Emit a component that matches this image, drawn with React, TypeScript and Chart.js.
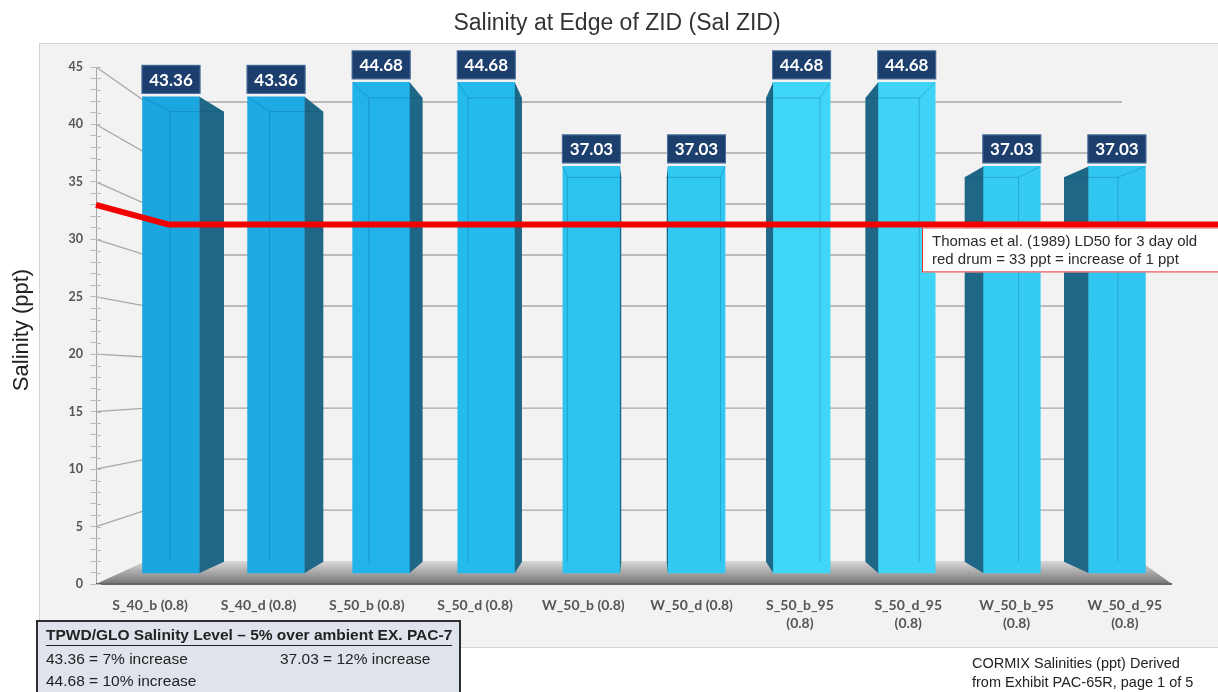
import React, { useEffect, useRef } from 'react';
import { Chart, registerables } from 'chart.js';

Chart.register(...registerables);

const categories: (string | string[])[] = [
  'S_40_b (0.8)',
  'S_40_d (0.8)',
  'S_50_b (0.8)',
  'S_50_d (0.8)',
  'W_50_b (0.8)',
  'W_50_d (0.8)',
  ['S_50_b_95', '(0.8)'],
  ['S_50_d_95', '(0.8)'],
  ['W_50_b_95', '(0.8)'],
  ['W_50_d_95', '(0.8)'],
];
const salinity = [43.36, 43.36, 44.68, 44.68, 37.03, 37.03, 44.68, 44.68, 37.03, 37.03];
const threshold = 33;
const titleText = 'Salinity at Edge of ZID (Sal ZID)';
const yTitle = 'Salinity (ppt)';
const thresholdNote = ['Thomas et al. (1989) LD50 for 3 day old', 'red drum = 33 ppt = increase of 1 ppt'];
const legendHeading = 'TPWD/GLO Salinity Level \u2013 5% over ambient EX. PAC-7';
const legendItems = ['43.36 = 7% increase', '37.03 = 12% increase', '44.68 = 10% increase'];
const sourceNote = ['CORMIX Salinities (ppt) Derived', 'from Exhibit PAC-65R, page 1 of 5'];

const barColors = ['#1ba6e0', '#1eaae3', '#21b3e9', '#25baec', '#2cc3f0', '#31c9f2', '#40d6f7', '#3fd4f6', '#35cbf3', '#31c6f1'];
const SIDE = '#1e6787';
const VP = { x: 645, y: 366 };
const DEPTH = 0.945;
const proj = (x: number, y: number) => ({ x: VP.x + (x - VP.x) * DEPTH, y: VP.y + (y - VP.y) * DEPTH });
const ARIAL = '"Liberation Sans", Arial, sans-serif';
const CAL = 'Lato, "Open Sans", sans-serif';

const decor = {
  id: 'decor',
  beforeDraw(chart: any) {
    const ctx = chart.ctx;
    ctx.save();
    ctx.fillStyle = '#ffffff';
    ctx.fillRect(0, 0, chart.width, chart.height);
    ctx.fillStyle = '#f2f2f2';
    ctx.fillRect(39, 43, 1180, 604);
    ctx.strokeStyle = '#d4d4d4';
    ctx.lineWidth = 1;
    ctx.strokeRect(39.5, 43.5, 1180, 604);
    ctx.restore();
  },
  beforeDatasetsDraw(chart: any) {
    const ctx = chart.ctx;
    const y = chart.scales.y;
    const yw = chart.scales.yw;
    const area = chart.chartArea;
    ctx.save();
    // floor
    const fy = y.getPixelForValue(0);
    const by = yw.getPixelForValue(0);
    const g = ctx.createLinearGradient(0, by, 0, fy);
    g.addColorStop(0, '#d8d8d8');
    g.addColorStop(0.8, '#8a8a8a');
    g.addColorStop(1, '#737373');
    ctx.fillStyle = g;
    ctx.beginPath();
    ctx.moveTo(area.left, fy);
    ctx.lineTo(area.left + 50, by);
    ctx.lineTo(1140, by);
    ctx.lineTo(1172, fy);
    ctx.closePath();
    ctx.fill();
    ctx.strokeStyle = '#666666';
    ctx.lineWidth = 2;
    ctx.beginPath();
    ctx.moveTo(area.left, fy);
    ctx.lineTo(1172, fy);
    ctx.stroke();
    // back wall grid lines
    ctx.strokeStyle = '#a8a8a8';
    ctx.lineWidth = 1.3;
    for (let v = 5; v <= 45; v += 5) {
      ctx.beginPath();
      ctx.moveTo(area.left, y.getPixelForValue(v));
      ctx.lineTo(area.left + 50, yw.getPixelForValue(v));
      ctx.lineTo(1122, yw.getPixelForValue(v));
      ctx.stroke();
    }
    // minor tick extension right of the axis
    ctx.strokeStyle = '#bdbdbd';
    ctx.lineWidth = 1;
    y.ticks.forEach((t: any) => {
      const py = Math.round(y.getPixelForValue(t.value)) + 0.5;
      ctx.beginPath();
      ctx.moveTo(area.left, py);
      ctx.lineTo(area.left + 5, py);
      ctx.stroke();
    });
    ctx.restore();
  },
  afterDatasetsDraw(chart: any) {
    const ctx = chart.ctx;
    const meta = chart.getDatasetMeta(0);
    ctx.save();
    meta.data.forEach((el: any) => {
      const { x, y, base, width } = el.getProps(['x', 'y', 'base', 'width'], true);
      const left = x - width / 2;
      const right = x + width / 2;
      const edge = x < VP.x ? right : left;
      const a = proj(edge, y);
      const b = proj(edge, base);
      ctx.fillStyle = SIDE;
      ctx.beginPath();
      ctx.moveTo(edge, y);
      ctx.lineTo(a.x, a.y);
      ctx.lineTo(b.x, b.y);
      ctx.lineTo(edge, base);
      ctx.closePath();
      ctx.fill();
      const inner = x < VP.x ? left : right;
      const p = proj(inner, y);
      const q = proj(inner, base);
      ctx.strokeStyle = 'rgba(0,80,130,0.28)';
      ctx.lineWidth = 1;
      ctx.beginPath();
      ctx.moveTo(inner, y);
      ctx.lineTo(p.x, p.y);
      ctx.lineTo(q.x, q.y);
      ctx.moveTo(p.x, p.y);
      ctx.lineTo(a.x, a.y);
      ctx.stroke();
    });
    // threshold line
    const ys = chart.scales.y;
    const yw = chart.scales.yw;
    const area = chart.chartArea;
    ctx.strokeStyle = '#f20000';
    ctx.lineWidth = 6;
    ctx.lineJoin = 'round';
    ctx.beginPath();
    ctx.moveTo(area.left, ys.getPixelForValue(threshold));
    ctx.lineTo(area.left + 72, yw.getPixelForValue(threshold));
    ctx.lineTo(chart.width, yw.getPixelForValue(threshold));
    ctx.stroke();
    // value labels
    meta.data.forEach((el: any, i: number) => {
      const { x, y } = el.getProps(['x', 'y'], true);
      const w = 59;
      const h = 29;
      ctx.fillStyle = '#1c3f6d';
      ctx.fillRect(x - w / 2, y - 3 - h, w, h);
      ctx.strokeStyle = 'rgba(120,160,210,0.5)';
      ctx.lineWidth = 1;
      ctx.strokeRect(x - w / 2 + 0.5, y - 3 - h + 0.5, w - 1, h - 1);
      ctx.fillStyle = '#ffffff';
      ctx.font = `bold 17px ${CAL}`;
      ctx.textAlign = 'center';
      ctx.textBaseline = 'middle';
      ctx.fillText(salinity[i].toFixed(2), x, y - 3 - h / 2 + 1);
    });
    ctx.restore();
  },
  afterDraw(chart: any) {
    const ctx = chart.ctx;
    const yw = chart.scales.yw;
    ctx.save();
    ctx.fillStyle = '#333333';
    ctx.font = `23px ${ARIAL}`;
    ctx.textAlign = 'center';
    ctx.textBaseline = 'middle';
    ctx.fillText(titleText, 617, 24);
    ctx.save();
    ctx.translate(22, 330);
    ctx.rotate(-Math.PI / 2);
    ctx.fillStyle = '#222222';
    ctx.font = `22px ${ARIAL}`;
    ctx.fillText(yTitle, 0, 0);
    ctx.restore();
    // threshold note
    const ty = yw.getPixelForValue(threshold) + 3;
    ctx.fillStyle = '#ffffff';
    ctx.fillRect(922, ty, 300, 45);
    ctx.strokeStyle = '#e53030';
    ctx.lineWidth = 1;
    ctx.strokeRect(922.5, ty + 0.5, 300, 44);
    ctx.fillStyle = '#2a2a2a';
    ctx.font = `15px ${ARIAL}`;
    ctx.textAlign = 'left';
    ctx.fillText(thresholdNote[0], 932, ty + 14);
    ctx.fillText(thresholdNote[1], 932, ty + 32);
    // legend box
    ctx.fillStyle = '#dfe4ec';
    ctx.fillRect(37, 621, 423, 80);
    ctx.strokeStyle = '#2e2e2e';
    ctx.lineWidth = 2;
    ctx.strokeRect(37, 621, 423, 80);
    ctx.fillStyle = '#222222';
    ctx.font = `bold 15.5px ${ARIAL}`;
    ctx.textAlign = 'left';
    ctx.fillText(legendHeading, 46, 636);
    const hw = ctx.measureText(legendHeading).width;
    ctx.strokeStyle = '#222222';
    ctx.lineWidth = 1;
    ctx.beginPath();
    ctx.moveTo(46, 645.5);
    ctx.lineTo(46 + hw, 645.5);
    ctx.stroke();
    ctx.font = `15.5px ${ARIAL}`;
    ctx.fillText(legendItems[0], 46, 660);
    ctx.fillText(legendItems[1], 280, 660);
    ctx.fillText(legendItems[2], 46, 682);
    ctx.font = `14.5px ${ARIAL}`;
    ctx.fillText(sourceNote[0], 972, 664);
    ctx.fillText(sourceNote[1], 972, 683);
    ctx.restore();
  },
};

export default function App() {
  const ref = useRef<HTMLCanvasElement | null>(null);
  useEffect(() => {
    if (!ref.current) return;
    const chart = new Chart(ref.current, {
      type: 'bar',
      data: {
        datasets: [
          {
            label: 'Salinity',
            data: salinity.map((v, i) => ({ x: i, y: v })) as any,
            xAxisID: 'xb',
            yAxisID: 'yb',
            backgroundColor: barColors,
            borderWidth: 0,
            barThickness: 57,
          },
        ],
      },
      options: {
        responsive: false,
        animation: false,
        layout: { padding: { top: 67, right: 39, left: 0, bottom: 0 } },
        plugins: { legend: { display: false }, tooltip: { enabled: false }, title: { display: false } },
        scales: {
          x: {
            type: 'category',
            labels: categories as any,
            position: 'bottom',
            offset: true,
            grid: { display: false, drawTicks: false },
            border: { display: false },
            ticks: {
              font: { family: CAL, weight: 'bold', size: 14, lineHeight: 1.32 },
              color: '#555555',
              padding: 12,
              maxRotation: 0,
              autoSkip: false,
            },
            afterFit: (s: any) => {
              s.height = 108;
            },
          },
          xb: { type: 'linear', display: false, offset: false, grace: 0, min: -0.7136, max: 9.591 },
          y: {
            type: 'linear',
            position: 'left',
            min: 0,
            max: 45,
            ticks: {
              stepSize: 1,
              autoSkip: false,
              callback: (v: any) => (Number(v) % 5 === 0 ? String(v) : ''),
              font: { family: CAL, weight: 'bold', size: 12.5 },
              color: '#555555',
              padding: 7,
            },
            grid: { drawOnChartArea: false, tickLength: 6, tickColor: '#bdbdbd' },
            border: { color: '#a5a5a5' },
            afterFit: (s: any) => {
              s.width = 96;
            },
          },
          yb: { type: 'linear', display: false, min: -1.0, max: 46.08 },
          yw: { type: 'linear', display: false, min: -2.25, max: 48.43 },
        },
      } as any,
      plugins: [decor],
    });
    return () => chart.destroy();
  }, []);
  return (
    <div style={{ position: 'absolute', left: 0, top: 0, width: 1218, height: 692 }}>
      <canvas ref={ref} width={1218} height={692} style={{ display: 'block' }} />
    </div>
  );
}
